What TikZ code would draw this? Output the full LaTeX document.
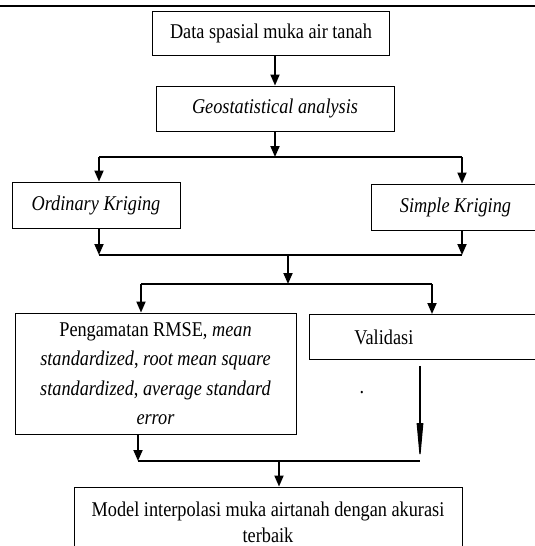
\documentclass[tikz,border=0pt]{standalone}
\usepackage{fontspec}
\setmainfont[FakeStretch=0.87]{Liberation Serif}
\usepackage{tikz}
\usetikzlibrary{arrows.meta,positioning,calc}

\begin{document}
\begin{tikzpicture}[
      x=1pt, y=-1pt,
      every node/.style={font=\fontsize{21}{24}\selectfont},
      box/.style={draw, line width=0.9pt, inner sep=0pt, align=center},
      arr/.style={-{Triangle[length=11pt,width=9pt]}, line width=1.8pt},
      link/.style={line width=1.5pt},
      thinarr/.style={-{Triangle[length=38pt,width=6.5pt]}, line width=1.2pt}
  ]
    \useasboundingbox (0,0) rectangle (535,546);
    \clip (0,0) rectangle (535,546);
    \draw[line width=1.5pt] (0,6) -- (535,6);

    \node[box, minimum width=237pt, minimum height=44pt] (data) at (271,33) {Data spasial muka air tanah};
    \node[box, minimum width=238pt, minimum height=45pt] (geo) at (275,108.5) {\textit{Geostatistical analysis}};
    \node[box, minimum width=168pt, minimum height=46pt] (ok) at (96,205) {\textit{Ordinary Kriging}};
    \node[box, minimum width=169pt, minimum height=46pt] (sk) at (455.5,207) {\textit{Simple Kriging}};
    \node[box, minimum width=281pt, minimum height=121pt,
          font=\fontsize{21}{29.5}\selectfont] (peng) at (155.5,373.5)
      {Pengamatan RMSE, \textit{mean}\\ \textit{standardized}, \textit{root mean square}\\
       \textit{standardized}, \textit{average standard}\\ \textit{error}};
    \node[box, anchor=north west, minimum height=45pt, text width=200pt,
          inner xsep=45pt, align=left] (val) at (309,314) {Validasi};
    \node[anchor=base] (titik) at (362,393) {.};
    \node[box, minimum width=388pt, minimum height=70pt,
          font=\fontsize{21}{26}\selectfont] (model) at (268,522)
      {Model interpolasi muka airtanah dengan akurasi\\ terbaik};

    % percabangan
    \coordinate (c1) at (275,157);
    \coordinate (c2) at (288,255);
    \coordinate (c3) at (288,284);
    \coordinate (c4) at (279,461);

    \draw[arr] (data.south -| geo) -- (geo.north);
    \draw[arr] (geo.south) -- (c1);
    \draw[link] (c1 -| 99,0) -- (c1 -| 462,0);
    \draw[arr] (99,157) -- (ok.north -| 99,0);
    \draw[arr] (462,157) -- (sk.north -| 462,0);

    \draw[arr] (ok.south -| 99,0) -- (c2 -| 99,0);
    \draw[arr] (sk.south -| 462,0) -- (c2 -| 462,0);
    \draw[link] (c2 -| 99,0) -- (c2 -| 462,0);
    \draw[arr] (c2) -- (c3);

    \draw[link] (c3 -| 141,0) -- (c3 -| 432,0);
    \draw[arr] (c3 -| 141,0) -- (peng.north -| 141,0);
    \draw[arr] (c3 -| 432,0) -- (val.north -| 432,0);

    \draw[arr] (peng.south -| 138,0) -- (c4 -| 138,0);
    \draw[thinarr, shorten <=6pt] (val.south -| 420,0) -- (c4 -| 420,0);
    \draw[link] (c4 -| 138,0) -- (c4 -| 420,0);
    \draw[arr] (c4) -- (c4 |- model.north);
  \end{tikzpicture}
\end{document}
